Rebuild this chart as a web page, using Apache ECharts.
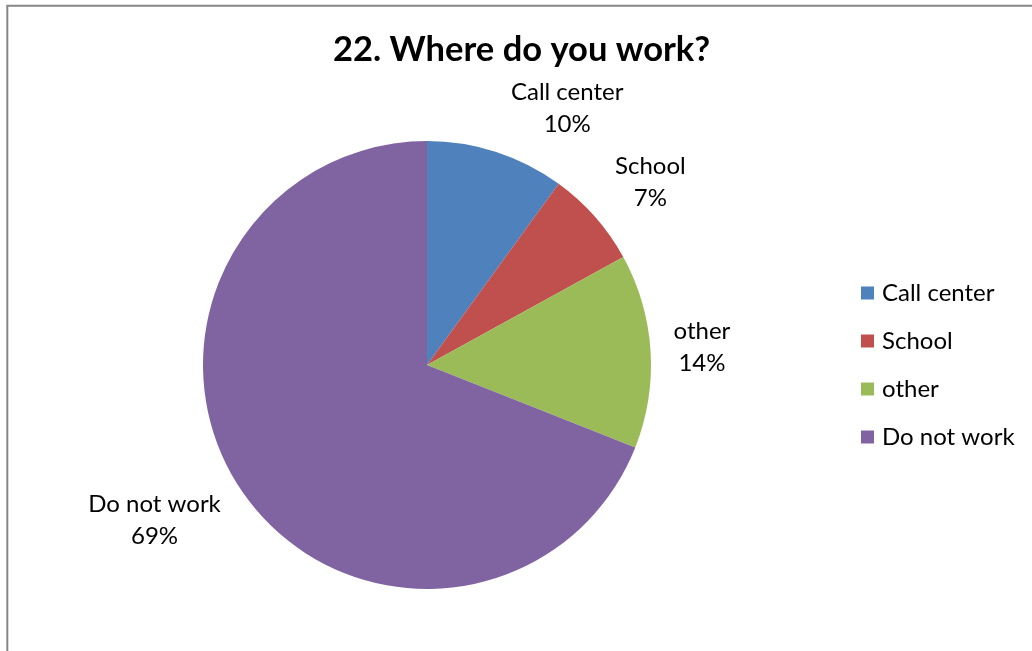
<!DOCTYPE html>
<html>
<head>
<meta charset="utf-8">
<script src="https://cdn.jsdelivr.net/npm/echarts@6/dist/echarts.min.js"></script>
<style>
  html, body { margin: 0; padding: 0; background: #fff; }
  #main { width: 1032px; height: 651px; }
</style>
</head>
<body>
<div id="main"></div>
<script>
var categories = ['Call center', 'School', 'other', 'Do not work'];
var percents = [10, 7, 14, 69];
var colors = ['#4F81BD', '#C0504D', '#9BBB59', '#8064A2'];

var pieData = [];
for (var i = 0; i < categories.length; i++) {
    pieData.push({ name: categories[i], value: percents[i] });
}

function clamp1(v) { return Math.max(-1, Math.min(1, v)); }

// put each label outside the arc, the way Excel does "outside end"
function placeLabel(params) {
    var pts = params.labelLinePoints;
    if (!pts) return {};
    var ux = pts[1][0] - pts[0][0], uy = pts[1][1] - pts[0][1];
    var len = Math.sqrt(ux * ux + uy * uy) || 1;
    ux /= len; uy /= len;
    var gap = 12, pad = 11;
    var w = params.labelRect.width, h = params.labelRect.height;
    var px = pts[0][0] + ux * gap, py = pts[0][1] + uy * gap;
    return {
        x: px + (w / 2 + pad) * clamp1(4 * ux),
        y: py + (h / 2) * clamp1(1.25 * uy),
        align: 'center',
        verticalAlign: 'middle'
    };
}

var option = {
    color: colors,
    animation: false,
    title: {
        text: '22. Where do you work?',
        left: 333,
        top: 27,
        padding: [5, 0, 5, 0],
        textStyle: { fontFamily: 'Lato', fontWeight: 'bold', fontSize: 34.5, color: '#000' }
    },
    legend: {
        orient: 'vertical',
        left: 856,
        top: 276,
        icon: 'rect',
        itemWidth: 13,
        itemHeight: 13,
        itemGap: 24,
        data: categories,
        textStyle: { fontFamily: 'Lato', fontSize: 24, color: '#000', lineHeight: 24, padding: [0, 0, 0, 3] }
    },
    graphic: [{
        type: 'rect',
        shape: { x: 7.3, y: 5.7, width: 1100, height: 700 },
        style: { fill: 'none', stroke: '#868686', lineWidth: 2 }
    }],
    series: [{
        type: 'pie',
        center: [427, 365],
        radius: 224,
        startAngle: 90,
        clockwise: true,
        avoidLabelOverlap: false,
        data: pieData,
        itemStyle: { borderWidth: 0 },
        label: {
            show: true,
            position: 'outside',
            formatter: '{b}\n{c}%',
            fontFamily: 'Lato',
            fontSize: 24,
            lineHeight: 32,
            color: '#000'
        },
        labelLine: { show: true, length: 10, length2: 5, lineStyle: { opacity: 0 } },
        labelLayout: placeLabel,
        emphasis: { disabled: true }
    }]
};

var myChart = echarts.init(document.getElementById('main'));
myChart.setOption(option);
</script>
</body>
</html>
